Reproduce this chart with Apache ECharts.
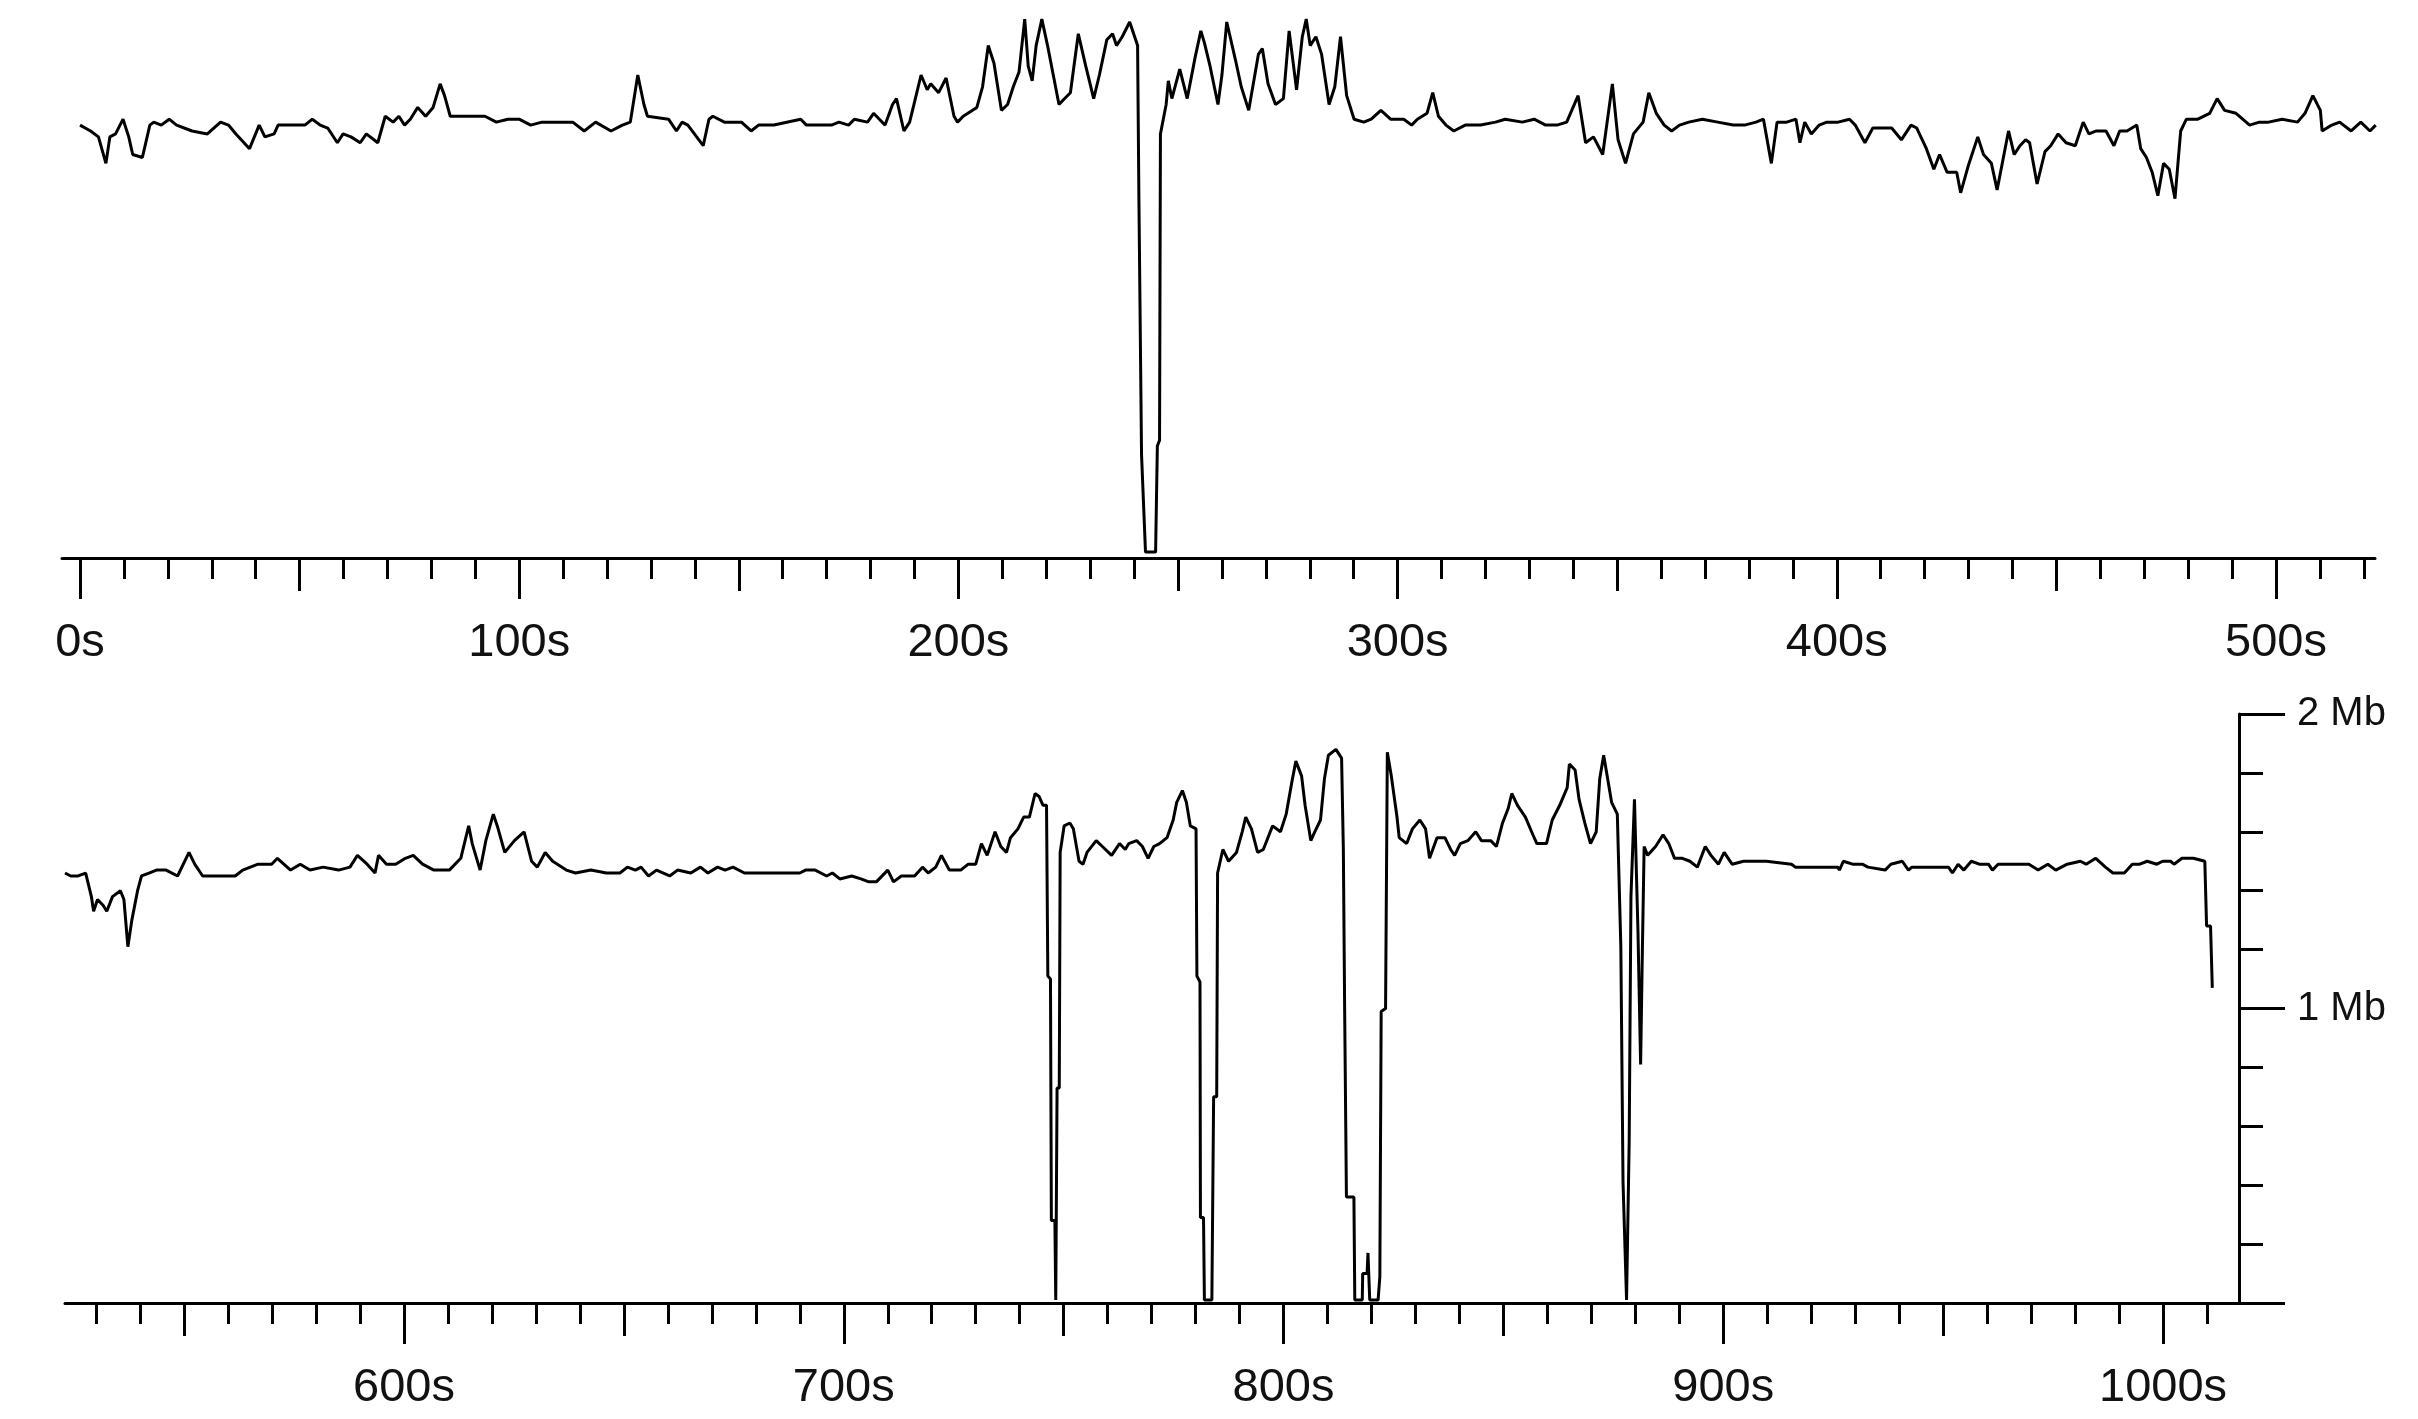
<!DOCTYPE html>
<html>
<head>
<meta charset="utf-8">
<title>Bitrate over time</title>
<script src="https://cdn.jsdelivr.net/npm/echarts@6/dist/echarts.min.js"></script>
<style>
  html, body { margin: 0; padding: 0; background: #fff; }
  #chart { width: 2418px; height: 1419px; }
</style>
</head>
<body>
<div id="chart"></div>
<script>
// first row: 0s .. ~523s  (seconds, Mb)
var topTimes = [
  0, 2.4, 4.2, 5.9, 6.8, 8.1, 9.8, 11.1, 12.0, 14.2, 15.9, 16.8, 18.5, 20.3, 22.0, 25.5, 29.0, 32.0, 33.8, 35.5,
  38.6, 40.8, 42.1, 44.2, 45.1, 47.7, 49.5, 51.2, 52.9, 54.7, 56.4, 58.6, 59.9, 61.7, 63.8, 65.2, 67.8, 69.5, 71.3, 72.6,
  73.9, 75.2, 76.9, 78.7, 80.4, 82.0, 83.0, 84.3, 89.6, 92.2, 94.8, 97.4, 100.0, 102.6, 105.2, 108.7, 112.2, 114.8, 117.4, 120.9,
  123.5, 125.3, 127.0, 128.4, 129.2, 134.0, 135.8, 137.1, 138.4, 141.9, 143.2, 144.1, 146.7, 150.6, 152.8, 154.5, 158.0, 164.1, 165.4, 167.6,
  171.1, 172.8, 175.0, 176.3, 179.3, 180.7, 182.0, 183.3, 185.0, 185.9, 187.6, 188.9, 190.2, 191.5, 192.9, 193.7, 195.5, 197.2, 199.0, 199.8,
  201.1, 204.2, 205.5, 206.8, 208.1, 209.8, 211.2, 212.5, 213.8, 215.1, 215.9, 216.8, 217.7, 219.0, 220.3, 221.6, 222.9, 224.2, 225.5, 227.3,
  229.0, 230.8, 232.1, 233.8, 235.1, 236.0, 237.3, 239.0, 239.9, 240.8, 241.1, 241.7, 242.6, 244.9, 245.3, 245.8, 246.0, 247.3, 247.8, 248.6,
  250.4, 252.1, 253.9, 255.2, 256.0, 257.3, 259.1, 260.0, 261.1, 263.1, 264.4, 266.1, 268.3, 269.2, 270.5, 272.2, 274.0, 275.3, 277.0, 278.3,
  279.2, 280.1, 281.4, 282.7, 284.4, 285.7, 287.0, 288.4, 290.1, 292.3, 294.0, 296.2, 298.4, 301.4, 303.2, 304.5, 306.7, 308.0, 309.3, 311.0,
  312.8, 315.4, 318.9, 322.3, 324.5, 328.4, 331.1, 333.7, 336.3, 338.5, 341.1, 342.8, 344.6, 346.7, 348.9, 350.2, 351.9, 353.7, 355.9, 357.2,
  358.9, 360.7, 362.4, 364.2, 366.3, 369.4, 372.9, 376.4, 379.0, 381.6, 383.3, 385.1, 386.4, 388.6, 390.7, 391.6, 392.7, 394.2, 396.0, 397.7,
  400.3, 402.9, 404.2, 406.4, 408.2, 410.3, 412.5, 414.7, 416.9, 418.2, 420.4, 422.1, 423.4, 425.1, 427.3, 428.2, 429.9, 432.1, 433.4, 435.2,
  436.5, 437.8, 439.1, 440.4, 441.7, 443.0, 443.9, 445.6, 447.4, 448.7, 450.4, 452.2, 454.3, 456.1, 457.4, 459.1, 461.3, 463.1, 464.4, 466.1,
  468.3, 469.2, 470.5, 471.8, 473.1, 474.4, 475.7, 477.0, 478.3, 479.6, 482.2, 484.9, 486.6, 488.3, 490.9, 494.0, 496.2, 498.3, 501.4, 504.9,
  506.6, 508.4, 510.1, 510.5, 512.7, 514.5, 517.1, 519.3, 521.4, 522.7
];
var topRates = [
  1.47, 1.45, 1.43, 1.34, 1.43, 1.44, 1.49, 1.43, 1.37, 1.36, 1.47, 1.48, 1.47, 1.49, 1.47, 1.45, 1.44, 1.48, 1.47, 1.44,
  1.39, 1.47, 1.43, 1.44, 1.47, 1.47, 1.47, 1.47, 1.49, 1.47, 1.46, 1.41, 1.44, 1.43, 1.41, 1.44, 1.41, 1.50, 1.48, 1.50,
  1.47, 1.49, 1.53, 1.50, 1.53, 1.61, 1.57, 1.50, 1.50, 1.50, 1.48, 1.49, 1.49, 1.47, 1.48, 1.48, 1.48, 1.45, 1.48, 1.45,
  1.47, 1.48, 1.64, 1.54, 1.50, 1.49, 1.45, 1.48, 1.47, 1.40, 1.49, 1.50, 1.48, 1.48, 1.45, 1.47, 1.47, 1.49, 1.47, 1.47,
  1.47, 1.48, 1.47, 1.49, 1.48, 1.51, 1.49, 1.47, 1.54, 1.56, 1.45, 1.48, 1.56, 1.64, 1.59, 1.61, 1.58, 1.63, 1.50, 1.48,
  1.50, 1.53, 1.60, 1.74, 1.68, 1.52, 1.54, 1.60, 1.65, 1.83, 1.67, 1.62, 1.74, 1.83, 1.74, 1.64, 1.54, 1.56, 1.58, 1.78,
  1.67, 1.56, 1.64, 1.76, 1.78, 1.74, 1.77, 1.82, 1.78, 1.74, 1.22, 0.35, 0.02, 0.02, 0.38, 0.40, 1.44, 1.54, 1.62, 1.56,
  1.66, 1.56, 1.70, 1.79, 1.75, 1.67, 1.54, 1.64, 1.82, 1.69, 1.60, 1.52, 1.71, 1.73, 1.61, 1.54, 1.56, 1.79, 1.59, 1.77,
  1.83, 1.74, 1.77, 1.71, 1.54, 1.60, 1.77, 1.57, 1.49, 1.48, 1.49, 1.52, 1.49, 1.49, 1.47, 1.49, 1.51, 1.58, 1.50, 1.47,
  1.45, 1.47, 1.47, 1.48, 1.49, 1.48, 1.49, 1.47, 1.47, 1.48, 1.57, 1.41, 1.43, 1.37, 1.61, 1.42, 1.34, 1.44, 1.48, 1.58,
  1.51, 1.47, 1.45, 1.47, 1.48, 1.49, 1.48, 1.47, 1.47, 1.48, 1.49, 1.34, 1.48, 1.48, 1.49, 1.41, 1.48, 1.44, 1.47, 1.48,
  1.48, 1.49, 1.47, 1.41, 1.46, 1.46, 1.46, 1.42, 1.47, 1.46, 1.39, 1.32, 1.37, 1.31, 1.31, 1.24, 1.33, 1.43, 1.37, 1.34,
  1.25, 1.35, 1.45, 1.37, 1.40, 1.42, 1.41, 1.27, 1.38, 1.40, 1.44, 1.41, 1.40, 1.48, 1.44, 1.45, 1.45, 1.40, 1.45, 1.45,
  1.47, 1.39, 1.36, 1.31, 1.23, 1.34, 1.32, 1.22, 1.45, 1.49, 1.49, 1.51, 1.56, 1.52, 1.51, 1.47, 1.48, 1.48, 1.49, 1.48,
  1.51, 1.57, 1.52, 1.45, 1.47, 1.48, 1.45, 1.48, 1.45, 1.47
];

// second row: ~523s .. 1011s
var bottomTimes = [
  522.9, 524.2, 525.9, 527.6, 528.9, 529.4, 530.3, 531.6, 532.4, 533.7, 535.5, 536.3, 537.2, 538.1, 539.4, 540.3, 542.0, 543.7, 545.9, 548.5,
  551.1, 552.4, 554.2, 558.1, 561.6, 563.3, 566.8, 569.9, 571.2, 574.2, 576.4, 578.6, 581.6, 585.1, 587.7, 589.4, 591.6, 593.4, 594.2, 596.0,
  598.1, 600.3, 602.1, 604.2, 606.8, 610.3, 612.9, 614.7, 615.5, 617.3, 618.6, 620.3, 621.2, 622.9, 625.1, 627.3, 629.0, 630.3, 632.1, 633.8,
  636.9, 639.0, 642.5, 646.0, 649.1, 650.8, 652.6, 653.9, 655.6, 657.4, 660.4, 662.2, 665.2, 667.4, 669.1, 671.3, 673.0, 674.8, 677.4, 690.0,
  691.3, 693.5, 696.1, 697.4, 699.1, 701.8, 703.9, 705.7, 707.4, 710.0, 711.3, 713.1, 716.1, 717.9, 719.2, 720.9, 722.2, 724.0, 726.6, 728.3,
  730.0, 731.3, 732.6, 734.4, 735.7, 737.0, 737.9, 739.6, 740.9, 742.2, 743.5, 744.4, 745.3, 746.1, 746.4, 747.0, 747.2, 748.0, 748.2, 748.5,
  749.0, 749.2, 750.1, 751.4, 752.2, 753.5, 754.4, 755.3, 757.4, 758.8, 760.9, 762.7, 764.0, 764.8, 766.6, 767.9, 769.2, 770.5, 771.8, 773.5,
  774.9, 775.7, 777.0, 777.9, 778.8, 780.1, 780.3, 781.0, 781.1, 781.8, 782.0, 783.7, 784.1, 784.8, 785.0, 786.2, 787.5, 789.3, 790.6, 791.4,
  792.7, 794.1, 795.4, 797.5, 799.3, 800.6, 801.9, 802.8, 804.1, 804.9, 806.2, 807.1, 808.4, 809.3, 810.2, 811.9, 813.2, 813.6, 813.9, 814.3,
  816.0, 816.2, 817.9, 818.0, 819.0, 819.2, 819.6, 821.5, 821.9, 822.2, 823.2, 823.6, 824.5, 825.8, 826.3, 828.0, 829.3, 831.0, 832.3, 833.2,
  834.9, 836.7, 838.0, 838.9, 840.2, 841.9, 843.7, 845.0, 847.1, 848.4, 849.8, 851.1, 851.9, 853.2, 855.0, 856.7, 857.6, 859.8, 861.1, 862.8,
  864.5, 865.0, 866.3, 867.2, 868.5, 869.8, 871.1, 871.9, 872.8, 873.7, 874.6, 875.9, 876.7, 877.2, 878.0, 878.6, 879.0, 879.8, 880.6, 881.2,
  881.6, 882.0, 882.8, 884.6, 886.3, 887.6, 888.9, 890.7, 892.4, 894.1, 895.9, 897.2, 898.9, 900.2, 902.0, 904.6, 909.8, 915.5, 916.4, 926.0,
  926.4, 927.3, 929.4, 931.6, 932.9, 936.8, 938.1, 940.7, 942.1, 942.9, 951.2, 952.1, 953.4, 954.7, 956.4, 958.2, 960.3, 961.2, 962.5, 969.5,
  971.6, 973.8, 975.6, 978.2, 981.2, 982.5, 984.7, 986.9, 988.6, 991.2, 993.0, 994.7, 996.4, 998.6, 999.9, 1001.7, 1002.5, 1004.3, 1006.9, 1009.5,
  1009.9, 1010.8, 1011.2
];
var bottomRates = [
  1.46, 1.45, 1.45, 1.46, 1.38, 1.33, 1.37, 1.35, 1.33, 1.38, 1.40, 1.37, 1.21, 1.30, 1.40, 1.45, 1.46, 1.47, 1.47, 1.45,
  1.53, 1.49, 1.45, 1.45, 1.45, 1.47, 1.49, 1.49, 1.51, 1.47, 1.49, 1.47, 1.48, 1.47, 1.48, 1.52, 1.49, 1.46, 1.52, 1.49,
  1.49, 1.51, 1.52, 1.49, 1.47, 1.47, 1.51, 1.62, 1.56, 1.47, 1.57, 1.66, 1.62, 1.53, 1.57, 1.60, 1.50, 1.48, 1.53, 1.50,
  1.47, 1.46, 1.47, 1.46, 1.46, 1.48, 1.47, 1.48, 1.45, 1.47, 1.45, 1.47, 1.46, 1.48, 1.46, 1.48, 1.47, 1.48, 1.46, 1.46,
  1.47, 1.47, 1.45, 1.46, 1.44, 1.45, 1.44, 1.43, 1.43, 1.47, 1.43, 1.45, 1.45, 1.48, 1.46, 1.48, 1.52, 1.47, 1.47, 1.49,
  1.49, 1.56, 1.52, 1.60, 1.55, 1.53, 1.58, 1.61, 1.65, 1.65, 1.73, 1.72, 1.69, 1.69, 1.11, 1.10, 0.28, 0.28, 0.01, 0.73,
  0.73, 1.53, 1.62, 1.63, 1.61, 1.50, 1.49, 1.53, 1.57, 1.55, 1.52, 1.56, 1.54, 1.56, 1.57, 1.55, 1.51, 1.55, 1.56, 1.58,
  1.64, 1.70, 1.74, 1.70, 1.62, 1.61, 1.11, 1.09, 0.29, 0.29, 0.01, 0.01, 0.70, 0.70, 1.46, 1.54, 1.50, 1.53, 1.60, 1.65,
  1.61, 1.53, 1.54, 1.62, 1.60, 1.66, 1.77, 1.84, 1.79, 1.69, 1.57, 1.60, 1.64, 1.78, 1.86, 1.88, 1.85, 1.54, 0.99, 0.36,
  0.36, 0.01, 0.01, 0.10, 0.10, 0.17, 0.01, 0.01, 0.09, 0.99, 1.00, 1.87, 1.79, 1.65, 1.58, 1.56, 1.61, 1.64, 1.61, 1.51,
  1.58, 1.58, 1.54, 1.52, 1.56, 1.57, 1.60, 1.57, 1.57, 1.55, 1.63, 1.68, 1.73, 1.69, 1.65, 1.59, 1.56, 1.56, 1.64, 1.69,
  1.75, 1.83, 1.81, 1.71, 1.63, 1.56, 1.60, 1.78, 1.86, 1.78, 1.70, 1.66, 1.21, 0.41, 0.01, 0.55, 1.38, 1.71, 1.26, 0.81,
  1.20, 1.55, 1.52, 1.55, 1.59, 1.56, 1.51, 1.51, 1.50, 1.48, 1.55, 1.52, 1.49, 1.53, 1.49, 1.50, 1.50, 1.49, 1.48, 1.48,
  1.47, 1.50, 1.49, 1.49, 1.48, 1.47, 1.49, 1.50, 1.47, 1.48, 1.48, 1.46, 1.49, 1.47, 1.50, 1.49, 1.49, 1.47, 1.49, 1.49,
  1.47, 1.49, 1.47, 1.49, 1.50, 1.49, 1.51, 1.48, 1.46, 1.46, 1.49, 1.49, 1.50, 1.49, 1.50, 1.50, 1.49, 1.51, 1.51, 1.50,
  1.28, 1.28, 1.07
];

// axis marks
var topLabelTicks = [0, 100, 200, 300, 400, 500];
var topHalfTicks = [50, 150, 250, 350, 450];
var bottomLabelTicks = [600, 700, 800, 900, 1000];
var bottomHalfTicks = [550, 650, 750, 850, 950];

function everyTen(from, to) {
  var out = [];
  for (var s = from; s <= to; s += 10) out.push(s);
  return out;
}
var topTenTicks = everyTen(0, 520);
var bottomTenTicks = everyTen(530, 1010);

function pairs(ts, vs) {
  return ts.map(function (t, i) { return [t, vs[i]]; });
}

var FONT = 'Liberation Sans';
var INK = '#000';
var PX_PER_S = 4.392;
var PX_PER_MB = 294.5;

// one x axis per tick length, all stacked on the same baseline
function timeAxis(grid, min, max, ticks, len, labels) {
  return {
    type: 'value', gridIndex: grid, position: 'bottom', min: min, max: max,
    splitLine: {show: false},
    axisLine: {show: !labels && len < 25, lineStyle: {color: INK, width: 3}},
    axisTick: {show: true, customValues: ticks, length: len, lineStyle: {color: INK, width: 3}},
    axisLabel: labels ? {
      show: true, customValues: ticks, margin: 62,
      formatter: function (v) { return String(v) + 's'; },
      fontFamily: FONT, fontSize: 47, color: '#111'
    } : {show: false, customValues: ticks}
  };
}

var topMin = -18 / PX_PER_S, topMax = 2295 / PX_PER_S;
var botMin = 522.9, botMax = 522.9 + 2174 / 4.3975;

var chart = echarts.init(document.getElementById('chart'));
chart.setOption({
  animation: false,
  backgroundColor: '#fff',
  grid: [
    {left: 62, top: 0, width: 2313, height: 558},
    {left: 65, top: 714, width: 2174, height: 589}
  ],
  xAxis: [
    timeAxis(0, topMin, topMax, topTenTicks, 21, false),
    timeAxis(0, topMin, topMax, topHalfTicks, 33, false),
    timeAxis(0, topMin, topMax, topLabelTicks, 41, true),
    timeAxis(1, botMin, botMax, bottomTenTicks, 21, false),
    timeAxis(1, botMin, botMax, bottomHalfTicks, 33, false),
    timeAxis(1, botMin, botMax, bottomLabelTicks, 41, true)
  ],
  yAxis: [
    {type: 'value', gridIndex: 0, min: 0, max: 558 / PX_PER_MB, show: false},
    {
      type: 'value', gridIndex: 1, position: 'right', min: 0, max: 2, interval: 0.2,
      splitLine: {show: false},
      axisLine: {show: true, lineStyle: {color: INK, width: 3}},
      axisTick: {show: true, length: 24, lineStyle: {color: INK, width: 3}},
      axisLabel: {show: false}
    },
    {
      type: 'value', gridIndex: 1, position: 'right', min: 0, max: 2, interval: 1,
      splitLine: {show: false},
      axisLine: {show: false},
      axisTick: {show: true, length: 46, lineStyle: {color: INK, width: 3}},
      axisLabel: {
        show: true, margin: 58, fontFamily: FONT, fontSize: 40, color: '#111',
        formatter: function (v) { return v ? v + ' Mb' : ''; }
      }
    }
  ],
  series: [
    {
      type: 'line', xAxisIndex: 0, yAxisIndex: 0, data: pairs(topTimes, topRates),
      showSymbol: false, lineStyle: {color: INK, width: 3}
    },
    {
      type: 'line', xAxisIndex: 3, yAxisIndex: 1, data: pairs(bottomTimes, bottomRates),
      showSymbol: false, lineStyle: {color: INK, width: 3}
    }
  ]
});
</script>
</body>
</html>
